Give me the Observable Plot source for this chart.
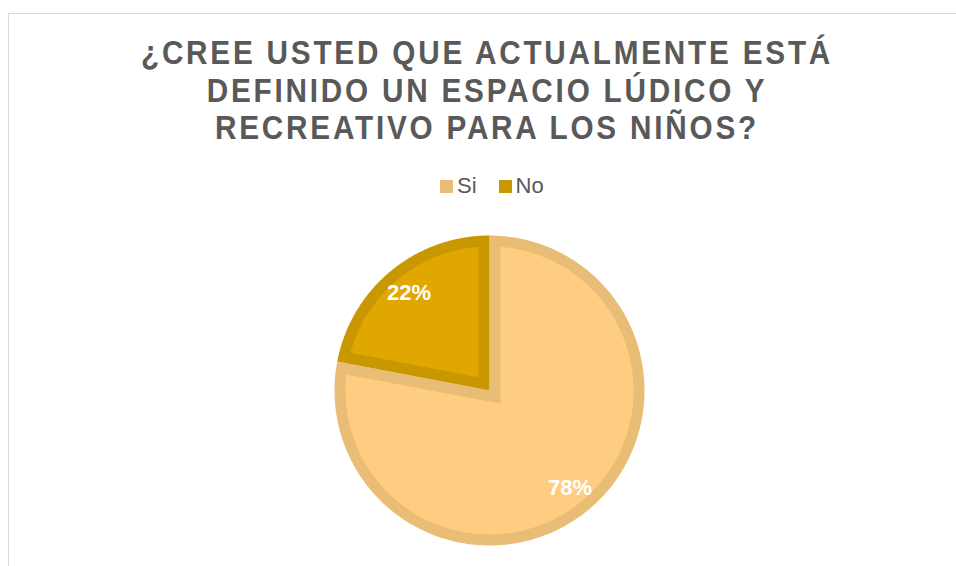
<!DOCTYPE html>
<html>
<head>
<meta charset="utf-8">
<script src="https://cdn.jsdelivr.net/npm/d3@7"></script>
<script src="https://cdn.jsdelivr.net/npm/@observablehq/plot@0.6"></script>
<style>
  html, body { margin: 0; padding: 0; background: #fff; }
  #wrap { position: relative; width: 956px; height: 566px; overflow: hidden; font-family: "Liberation Sans", Arial, sans-serif; }
  #border { position: absolute; left: 8px; top: 13px; width: 1000px; height: 600px; border-left: 1.5px solid #d9d9d9; border-top: 1.5px solid #d9d9d9; box-sizing: border-box; }
  #title { position: absolute; left: 0; top: 34px; width: 974px; text-align: center; font-family: "Liberation Sans", Arial, sans-serif; font-size: 33px; font-weight: bold; line-height: 37.5px; letter-spacing: 3.1px; color: #595959; transform: scaleX(0.9); transform-origin: 487px 0; }
  #legend { position: absolute; left: 440px; top: 175px; display: flex; align-items: center; font-size: 22px; line-height: 22px; color: #595959; }
  .item { display: flex; align-items: center; margin-right: 22px; }
  .sw { width: 13px; height: 13px; margin-right: 4px; }
  #chart { position: absolute; left: 0; top: 0; }
</style>
</head>
<body>
<div id="wrap">
  <div id="border"></div>
  <div id="title"></div>
  <div id="legend"></div>
  <div id="chart"></div>
</div>
<script>
const titleLines = ["¿CREE USTED QUE ACTUALMENTE ESTÁ", "DEFINIDO UN ESPACIO LÚDICO Y", "RECREATIVO PARA LOS NIÑOS?"];
const categories = ["Si", "No"];
const values = [78, 22];
const labels = ["78%", "22%"];
const fillColors = ["#FFCD82", "#E0A700"];
const strokeColors = ["#E9BD76", "#C99800"];

document.getElementById("title").innerHTML = titleLines.join("<br>");

const legend = document.getElementById("legend");
categories.forEach((c, i) => {
  const it = document.createElement("div");
  it.className = "item";
  const sw = document.createElement("div");
  sw.className = "sw";
  sw.style.background = strokeColors[i];
  const tx = document.createElement("span");
  tx.textContent = c;
  it.appendChild(sw); it.appendChild(tx);
  legend.appendChild(it);
});

// pie geometry (layout)
const cx = 489, cy = 390, R = 155, borderW = 11;
const inset = borderW / R;

const total = d3.sum(values);
let acc = 0;
const slices = categories.map((c, i) => {
  const a0 = acc / total * 2 * Math.PI;
  acc += values[i];
  const a1 = acc / total * 2 * Math.PI;
  return {category: c, value: values[i], label: labels[i], a0, a1, mid: (a0 + a1) / 2, i};
});

function wedge(s, ins) {
  const theta = s.a1 - s.a0;
  const pts = [];
  if (ins === 0) pts.push({x: 0, y: 0});
  else {
    const d = ins / Math.sin(theta / 2);
    pts.push({x: d * Math.sin(s.mid), y: d * Math.cos(s.mid)});
  }
  const r = 1 - ins;
  const da = ins ? Math.asin(ins / r) : 0;
  const n = 200;
  for (let k = 0; k <= n; k++) {
    const a = s.a0 + da + (theta - 2 * da) * k / n;
    pts.push({x: r * Math.sin(a), y: r * Math.cos(a)});
  }
  return pts;
}

const marks = [];
slices.forEach(s => {
  marks.push(Plot.line(wedge(s, 0), {x: "x", y: "y", curve: "linear-closed", fill: strokeColors[s.i], stroke: "none"}));
  marks.push(Plot.line(wedge(s, inset), {x: "x", y: "y", curve: "linear-closed", fill: fillColors[s.i], stroke: "none"}));
});
marks.push(Plot.text(slices, {
  x: s => 0.815 * Math.sin(s.mid),
  y: s => 0.815 * Math.cos(s.mid),
  text: "label",
  fill: "white",
  fontSize: 22,
  fontWeight: "bold",
  fontFamily: "Liberation Sans, Arial, sans-serif"
}));

const chart = Plot.plot({
  width: 956,
  height: 566,
  margin: 0,
  style: {background: "transparent", overflow: "visible"},
  x: {domain: [-1, 1], range: [cx - R, cx + R], axis: null},
  y: {domain: [-1, 1], range: [cy + R, cy - R], axis: null},
  marks
});
document.getElementById("chart").appendChild(chart);
</script>
</body>
</html>
